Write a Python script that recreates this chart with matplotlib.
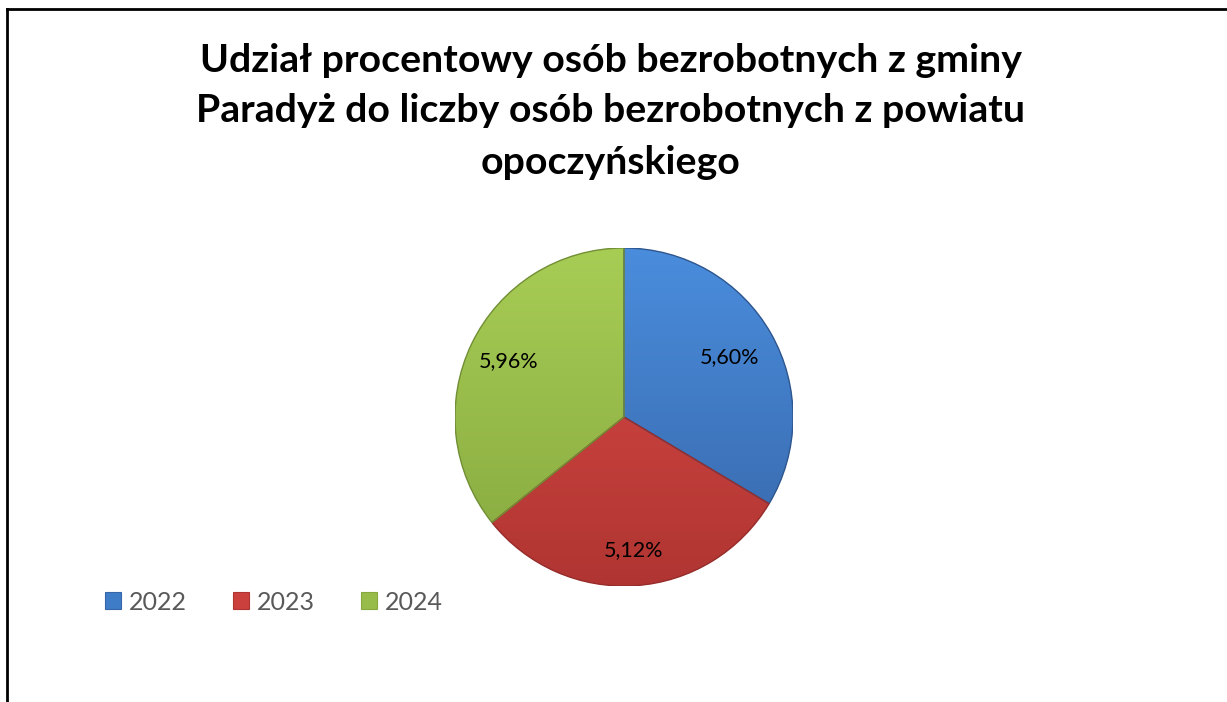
import matplotlib
matplotlib.use("Agg")
import matplotlib.pyplot as plt
from matplotlib.patches import Patch
from matplotlib.lines import Line2D
import numpy as np

# ---- data ----
years = ["2022", "2023", "2024"]
shares = [5.60, 5.12, 5.96]
value_labels = ["5,60%", "5,12%", "5,96%"]
title_lines = ["Udział procentowy osób bezrobotnych z gminy",
               "Paradyż do liczby osób bezrobotnych z powiatu",
               "opoczyńskiego"]

colors = ["#3f7cc8", "#cb403d", "#98bc4a"]
top_colors = ["#4a8ddd", "#db4b47", "#a8cd55"]
bot_colors = ["#3766a8", "#b03532", "#86a83f"]
label_r = [0.715, 0.79, 0.76]

W, H = 1227, 702
fig = plt.figure(figsize=(W / 100, H / 100), dpi=100)
fig.patch.set_facecolor("white")

# frame (left and top border)
fig.add_artist(Line2D([7 / W, 7 / W], [0, 1 - 9 / H], color="black", lw=2.0,
                      transform=fig.transFigure, solid_capstyle="projecting"))
fig.add_artist(Line2D([7 / W, 1], [1 - 9 / H, 1 - 9 / H], color="black", lw=2.0,
                      transform=fig.transFigure, solid_capstyle="projecting"))

# title
for i, (line, yc) in enumerate(zip(title_lines, [60, 110, 162])):
    fig.text(611 / W, 1 - yc / H, line, ha="center", va="center",
             fontsize=28.3, fontweight="bold", family=["Lato", "DejaVu Sans"],
             color="black")

# pie
cx, cy, r = 624, 417, 169
ax = fig.add_axes([(cx - r) / W, 1 - (cy + r) / H, 2 * r / W, 2 * r / H])
wedges, _ = ax.pie(shares, colors=colors, startangle=90, counterclock=False,
                   radius=1.0, wedgeprops=dict(edgecolor="none", linewidth=0))
ax.set_xlim(-1, 1)
ax.set_ylim(-1, 1)
ax.set_aspect("equal")
ax.axis("off")

# gradient fill clipped to wedges
yy = np.linspace(1, -1, 256)[:, None] * np.ones((1, 256))
for w, tc, bc in zip(wedges, top_colors, bot_colors):
    t = (1 - yy) / 2
    c1 = np.array(matplotlib.colors.to_rgb(tc))
    c2 = np.array(matplotlib.colors.to_rgb(bc))
    img = c1[None, None, :] * (1 - t[..., None]) + c2[None, None, :] * t[..., None]
    im = ax.imshow(img, extent=(-1, 1, -1, 1), zorder=1, interpolation="bilinear")
    im.set_clip_path(w)
    w.set_zorder(0)
    ec = matplotlib.colors.to_rgb(bc)
    outline = matplotlib.patches.Wedge((0, 0), 1.0, w.theta1, w.theta2,
                                       facecolor="none",
                                       edgecolor=tuple(0.85 * np.array(ec)),
                                       lw=1.0, zorder=2)
    ax.add_patch(outline)

for w, lab, rr in zip(wedges, value_labels, label_r):
    ang = np.deg2rad((w.theta1 + w.theta2) / 2)
    ax.text(rr * np.cos(ang), rr * np.sin(ang), lab, ha="center", va="center",
            fontsize=15.5, family=["Lato", "DejaVu Sans"], color="black", zorder=3)

# legend
handles = [Patch(facecolor=c, edgecolor=b, lw=0.8) for c, b in zip(colors, bot_colors)]
leg = fig.legend(handles, years, loc="center left",
                 bbox_to_anchor=(105 / W, 1 - 602 / H), ncol=3, frameon=False,
                 handlelength=0.65, handleheight=0.65, handletextpad=0.3,
                 columnspacing=1.85, borderpad=0, borderaxespad=0,
                 prop={"family": ["Lato", "DejaVu Sans"], "size": 18})
for t in leg.get_texts():
    t.set_color("#595959")

fig.savefig("out.png", dpi=100, facecolor="white")
